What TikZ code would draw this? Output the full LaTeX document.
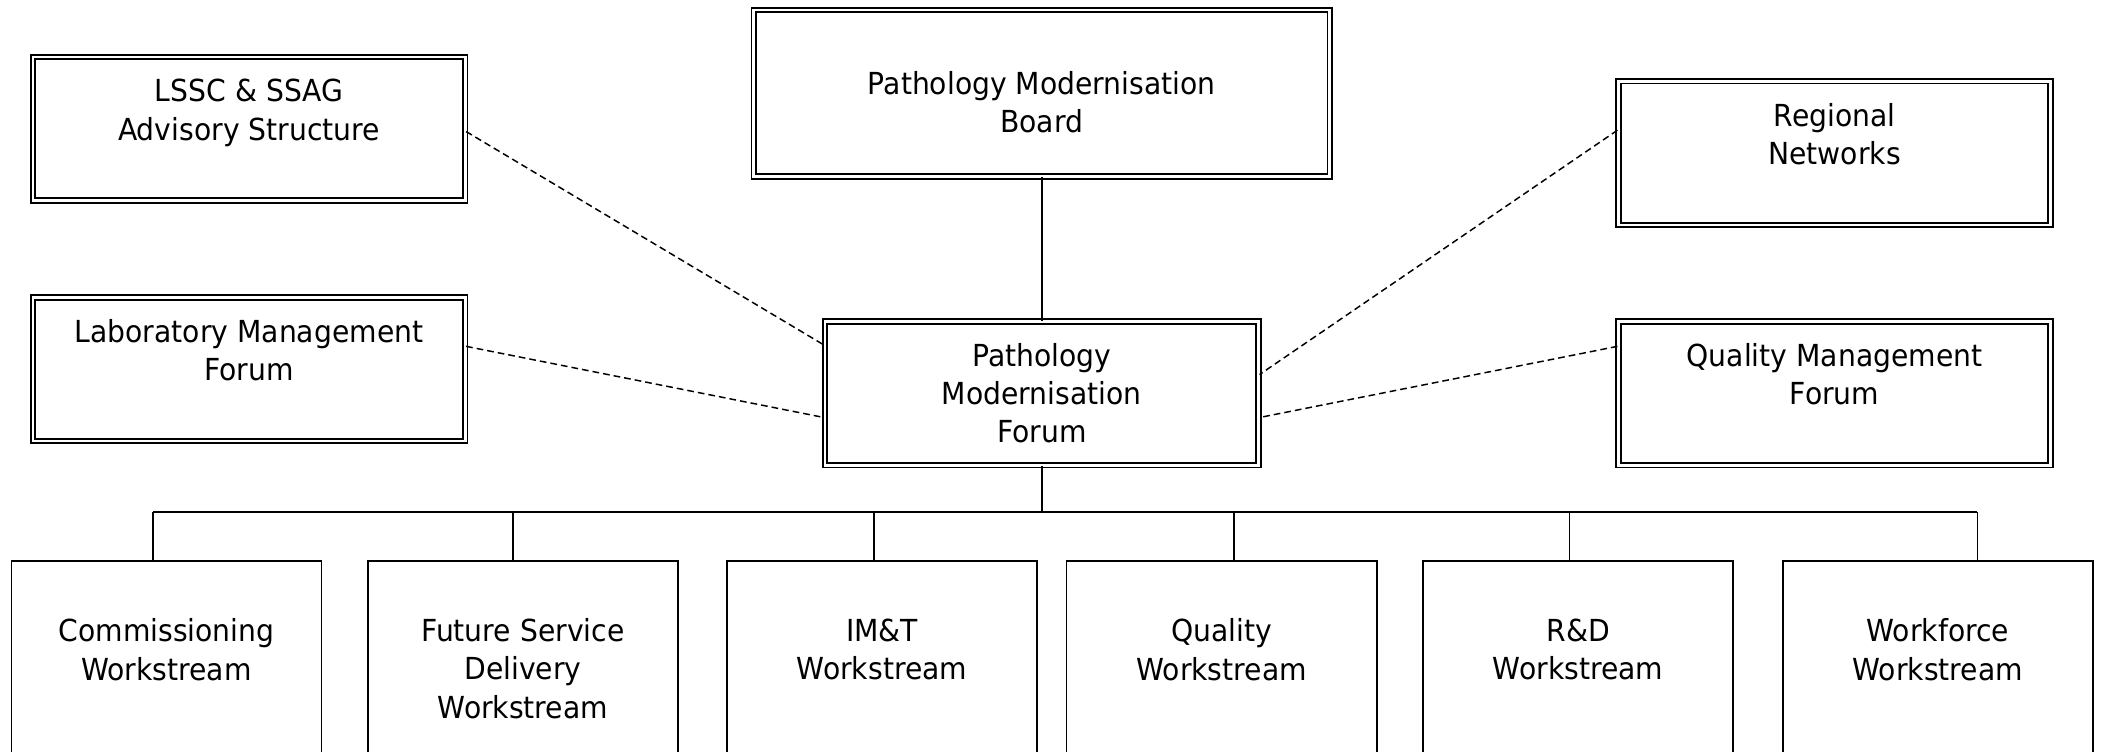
\documentclass[tikz,border=0pt]{standalone}
\usepackage{fontspec}
\setmainfont{DejaVu Sans}[FakeStretch=0.93]
\usepackage{tikz}
\tikzset{
  boxnode/.style = {align=center, inner sep=0pt, text centered,
    font=\fontsize{22.6}{28.5}\selectfont},
  bx_dbl/.style = {boxnode, rectangle, draw=black, double, double distance=2pt, line width=1.4pt, minimum width=#1, minimum height=107pt},% double frame
  bx_ws/.style = {boxnode, rectangle, draw=black, line width=1.3pt, minimum width=231pt, minimum height=160pt},% workstream
  ln/.style = {line width=1.3pt},% solid link
  ln_dash/.style = {line width=1.1pt, dash pattern=on 5pt off 3pt}% dashed link
}
\begin{document}
\begin{tikzpicture}[x=1pt,y=-1pt]
\useasboundingbox (0,0) rectangle (1568,560);
% top
\node [bx_dbl=322] (lssc) at (185.5,96) {LSSC \& SSAG\\Advisory Structure\\\mbox{}};
\node [bx_dbl=322] (lab) at (185.5,275) {Laboratory Management\\Forum\\\mbox{}};
\node [bx_dbl=429, minimum height=124pt] (pmb) at (776,69.5) {\mbox{}\\[1.4pt]Pathology Modernisation\\Board};
\node [bx_dbl=323] (pmf) at (776,293) {Pathology\\Modernisation\\Forum};
\node [bx_dbl=322] (reg) at (1366.5,114) {Regional\\Networks\\\mbox{}};
\node [bx_dbl=322] (qmf) at (1366.5,293) {Quality Management\\Forum\\\mbox{}};
% workstreams
\node [bx_ws] (ws1) at (124,498) {Commissioning\\Workstream\\\mbox{}};
\node [bx_ws] (ws2) at (389.5,498) {Future Service\\Delivery\\Workstream};
\node [bx_ws] (ws3) at (657,498) {IM\&T\\Workstream\\\mbox{}};
\node [bx_ws] (ws4) at (910,498) {Quality\\Workstream\\\mbox{}};
\node [bx_ws] (ws5) at (1175.5,498) {R\&D\\Workstream\\\mbox{}};
\node [bx_ws] (ws6) at (1443.5,498) {Workforce\\Workstream\\\mbox{}};
% links
\draw [ln] (pmb) -- (pmf);
\coordinate (bus) at ([yshift=36pt]ws1.north);
\draw [ln] (pmf.south) -- (pmf.south |- bus);
\foreach \i/\d in {1/-10,2/-7.5,3/-6,4/9,5/-6.5,6/29.5}{
  \coordinate (d\i) at ([xshift=\d pt]ws\i.north);
  \draw [ln] (d\i) -- (d\i |- bus);
}
\draw [ln] (d1 |- bus) -- (d6 |- bus);
\draw [ln_dash] ([yshift=-2pt]lssc.east) -- ([yshift=36pt]pmf.west);
\draw [ln_dash] ([yshift=17pt]lab.east) -- ([yshift=-18pt]pmf.west);
\draw [ln_dash] ([yshift=17pt]reg.west) -- ([yshift=14pt]pmf.east);
\draw [ln_dash] ([yshift=35pt]qmf.west) -- ([yshift=-18pt]pmf.east);
\end{tikzpicture}
\end{document}
